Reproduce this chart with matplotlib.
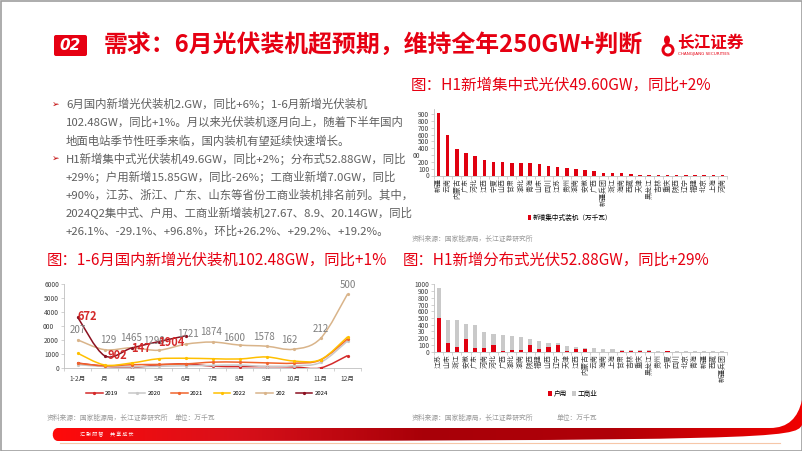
import numpy as np
import matplotlib.pyplot as plt
from matplotlib.path import Path
from matplotlib.patches import PathPatch, FancyBboxPatch, Rectangle, Ellipse
from matplotlib.transforms import ScaledTranslation
from matplotlib.colors import LinearSegmentedColormap

plt.rcParams['font.family'] = ['Noto Sans CJK SC', 'DejaVu Sans']
plt.rcParams['axes.unicode_minus'] = False

# ---- data ----
months = ['1-2月', '月', '4月', '5月', '6月', '7月', '8月', '9月', '10月', '11月', '12月']
y2019 = [380, 150, 50, 240, 320, 150, 120, 120, 100, 25, 905]
y2020 = [267, 128, 103, 140, 183, 203, 231, 127, 178, 420, 1950]
y2021 = [355, 176, 253, 277, 313, 441, 438, 387, 364, 596, 2100]
y2022 = [1086, 238, 380, 683, 717, 685, 666, 810, 524, 620, 2238]
y2023 = [2037, 1329, 1465, 1290, 1721, 1874, 1660, 1578, 1362, 2132, 5300]
y2024 = [3672, 902, 1447, 1904, 2317]
labels2023 = ['207', '129', '1465', '1290', '1721', '1874', '1600', '1578', '162', '212', '500']
labels2024 = ['672', '902', '147', '1904', '']

central_prov = ['新疆', '云南', '内蒙古', '广东', '河北', '江西', '宁夏', '山西', '甘肃', '湖北',
                '青海', '山东', '四川', '江苏', '贵州', '湖南', '安徽', '广西', '新疆兵团', '浙江',
                '海南', '西藏', '天津', '黑龙江', '吉林', '重庆', '陕西', '辽宁', '福建', '北京',
                '上海', '河南']
central_val = [915, 590, 384, 335, 290, 221, 197, 197, 187, 182, 182, 167, 143, 118, 113, 93,
               74, 64, 39, 34, 30, 15, 10, 10, 10, 5, 5, 5, 4, 1, 1, 0.5]

dist_prov = ['江苏', '山东', '浙江', '安徽', '广东', '河南', '河北', '广西', '湖北', '湖南',
             '陕西', '福建', '山西', '辽宁', '天津', '江西', '内蒙古', '云南', '海南', '上海',
             '甘肃', '吉林', '重庆', '黑龙江', '贵州', '宁夏', '四川', '北京', '青海', '新疆',
             '西藏', '新疆兵团']
household = [500, 134, 64, 188, 50, 50, 99, 3, 20, 20, 99, 40, 70, 100, 5, 35, 45, 0, 0, 0,
             10, 15, 5, 12, 2, 3, 2, 2, 0, 0, 0, 0]
commercial = [450, 331, 401, 228, 346, 247, 158, 240, 213, 193, 84, 118, 64, 24, 84, 39, 14,
              54, 45, 40, 15, 10, 15, 6, 13, 10, 8, 6, 5, 4, 3, 3]

bullets = [
    '6月国内新增光伏装机2.GW，同比+6%；1-6月新增光伏装机',
    '102.48GW，同比+1%。月以来光伏装机逐月向上，随着下半年国内',
    '地面电站季节性旺季来临，国内装机有望延续快速增长。',
    'H1新增集中式光伏装机49.6GW，同比+2%；分布式52.88GW，同比',
    '+29%；户用新增15.85GW，同比-26%；工商业新增7.0GW，同比',
    '+90%，江苏、浙江、广东、山东等省份工商业装机排名前列。其中，',
    '2024Q2集中式、户用、工商业新增装机27.67、8.9、20.14GW，同比',
    '+26.1%、-29.1%、+96.8%，环比+26.2%、+29.2%、+19.2%。',
]

W, H = 802, 451
RED = '#E60012'
TXT = '#5F5F5F'
SRC = '#9A9A9A'
AX = '#BFBFBF'

fig = plt.figure(figsize=(W / 100, H / 100), dpi=100)
bg = fig.add_axes([0, 0, 1, 1])
bg.axis('off')


def px_axes(x0, y0, x1, y1):
    return fig.add_axes([x0 / W, 1 - y1 / H, (x1 - x0) / W, (y1 - y0) / H])


def shift_label(lab, dx_px):
    lab.set_transform(lab.get_transform() + ScaledTranslation(dx_px / 100, 0, fig.dpi_scale_trans))


def style_axes(ax):
    for s in ['top', 'right']:
        ax.spines[s].set_visible(False)
    for s in ['left', 'bottom']:
        ax.spines[s].set_color(AX)
        ax.spines[s].set_linewidth(0.6)
    ax.tick_params(axis='y', length=2, width=0.5, color=AX, labelsize=4.8, labelcolor='#404040', pad=1.5)
    ax.tick_params(axis='x', which='major', length=0, labelcolor='#404040', pad=1.5)
    ax.tick_params(axis='x', which='minor', length=2, width=0.5, color=AX)
    ax.set_facecolor('none')


def smooth(ax, xs, ys, color, lw=1.0):
    # excel-style smoothed line through the data points
    pts = np.column_stack([xs, ys]).astype(float)
    verts = [pts[0]]
    codes = [Path.MOVETO]
    n = len(pts)
    for i in range(n - 1):
        p0 = pts[i - 1] if i > 0 else pts[i]
        p1, p2 = pts[i], pts[i + 1]
        p3 = pts[i + 2] if i + 2 < n else pts[i + 1]
        verts += [p1 + (p2 - p0) / 6, p2 - (p3 - p1) / 6, p2]
        codes += [Path.CURVE4] * 3
    ax.add_patch(PathPatch(Path(verts, codes), fill=False, edgecolor=color, lw=lw, zorder=3))


# ---- slide frame / header ----
bg.add_patch(Rectangle((0.5, 0.5), W - 1, H - 1, fill=False, edgecolor='#9E9E9E', lw=1.2))
bg.add_patch(FancyBboxPatch((54, 35), 33, 21, boxstyle='round,pad=0,rounding_size=2',
                            facecolor=RED, edgecolor='none'))
bg.text(70.5, 45.5, '02', color='white', fontsize=11, fontstyle='italic', fontweight='bold',
        ha='center', va='center', family='DejaVu Sans')
bg.text(104, 45, '需求：6月光伏装机超预期，维持全年250GW+判断', color=RED, fontsize=17.2,
        fontweight='bold', ha='left', va='center')
# logo
bg.add_patch(Ellipse((668, 50), 13, 13, facecolor=RED, edgecolor='none'))
bg.add_patch(Ellipse((668, 50), 7, 7, facecolor='white', edgecolor='none'))
bg.add_patch(Ellipse((667, 40), 6, 9, facecolor=RED, edgecolor='none'))
bg.text(677, 43, '长江证券', color=RED, fontsize=12, fontweight='bold', ha='left', va='center')
bg.text(678, 54.5, 'CHANGJIANG SECURITIES', color=RED, fontsize=3, ha='left', va='center',
        family='DejaVu Sans')

# ---- bullet text ----
for i, line in enumerate(bullets):
    bg.text(66, 104 + i * 18.2, line, color=TXT, fontsize=8.2, ha='left', va='center')
for y in [104, 158.6]:
    bg.text(52, y, '➢', color='#C00000', fontsize=6.5, ha='left', va='center', family='DejaVu Sans')

# ---- chart titles & sources ----
bg.text(411, 85, '图：H1新增集中式光伏49.60GW，同比+2%', color=RED, fontsize=11.2, ha='left', va='center')
bg.text(47, 260, '图：1-6月国内新增光伏装机102.48GW，同比+1%', color=RED, fontsize=11.1, ha='left', va='center')
bg.text(403, 260, '图：H1新增分布式光伏52.88GW，同比+29%', color=RED, fontsize=11.1, ha='left', va='center')
bg.text(412, 239, '资料来源：国家能源局，长江证券研究所', color=SRC, fontsize=4.9, ha='left', va='center')
bg.text(47, 418, '资料来源：国家能源局，长江证券研究所', color=SRC, fontsize=4.9, ha='left', va='center')
bg.text(175, 418, '单位：万千瓦', color=SRC, fontsize=4.9, ha='left', va='center')
bg.text(412, 418, '资料来源：国家能源局，长江证券研究所', color=SRC, fontsize=4.9, ha='left', va='center')
bg.text(557, 418, '单位：万千瓦', color=SRC, fontsize=4.9, ha='left', va='center')

# ---- bottom band ----
band = Path([(58, 428), (770, 428), (788, 428), (798, 418), (802, 400), (802, 425),
             (795, 438), (780, 441), (58, 441), (51, 441), (51, 428), (58, 428)],
            [Path.MOVETO, Path.LINETO, Path.CURVE4, Path.CURVE4, Path.CURVE4, Path.LINETO,
             Path.CURVE4, Path.CURVE4, Path.LINETO, Path.CURVE4, Path.CURVE4, Path.CURVE4])
grad = np.linspace(0, 1, 256).reshape(1, -1)
cmap = LinearSegmentedColormap.from_list('band', ['#FF0A0A', '#D8101A', '#A80008', '#B00008', '#F00000'])
im = bg.imshow(grad, cmap=cmap, aspect='auto', extent=(50, 802, 441, 398), zorder=1)
bp = PathPatch(band, facecolor='none', edgecolor='none', transform=bg.transData)
bg.add_patch(bp)
im.set_clip_path(bp)
bg.plot([60, 780], [442.5, 442.5], color='#F6C7A8', lw=0.8)
bg.text(80, 434.5, '汇 聚 财 智      共 享 成 长', color='white', fontsize=3.6, ha='left', va='center')
bg.set_xlim(0, W)
bg.set_ylim(H, 0)

# ---- top-right: centralized PV bars ----
ax1 = px_axes(434, 109, 727, 175.5)
x1 = np.arange(len(central_prov))
b1 = ax1.bar(x1, central_val, width=0.38, color='#E00010', zorder=2)
ax1.set_xlim(-0.5, len(central_prov) - 0.5)
ax1.set_ylim(0, 975)
ax1.set_yticks(range(0, 1000, 100))
ax1.set_yticklabels(['0', '100', '200', '00', '400', '500', '600', '700', '800', '900'])
ax1.set_xticks(x1)
ax1.set_xticklabels(central_prov, rotation=90, fontsize=5)
ax1.set_xticks(np.arange(-0.5, len(central_prov), 1), minor=True)
style_axes(ax1)
shift_label(ax1.get_yticklabels()[3], -9)
ax1.legend([b1], ['新增集中式装机（万千瓦）'], loc='center', bbox_to_anchor=(570 / W, 1 - 218 / H),
           bbox_transform=fig.transFigure, frameon=False, fontsize=4.8, handlelength=0.5,
           handleheight=0.8, handletextpad=0.3)

# ---- bottom-right: distributed PV stacked bars ----
ax3 = px_axes(434, 284.3, 727, 351.7)
x3 = np.arange(len(dist_prov))
b3a = ax3.bar(x3, household, width=0.45, color='#E00010', zorder=2)
b3b = ax3.bar(x3, commercial, width=0.45, bottom=household, color='#C9C9C9', zorder=2)
ax3.set_xlim(-0.5, len(dist_prov) - 0.5)
ax3.set_ylim(0, 1000)
ax3.set_yticks(range(0, 1001, 100))
ax3.set_yticklabels(['0', '100', '200', '30', '400', '500', '600', '700', '800', '900', '1000'])
ax3.set_xticks(x3)
ax3.set_xticklabels(dist_prov, rotation=90, fontsize=5)
ax3.set_xticks(np.arange(-0.5, len(dist_prov), 1), minor=True)
style_axes(ax3)
shift_label(ax3.get_yticklabels()[3], -4)
ax3.legend([b3a, b3b], ['户用', '工商业'], loc='center', bbox_to_anchor=(573 / W, 1 - 394 / H),
           bbox_transform=fig.transFigure, frameon=False, fontsize=4.8, handlelength=0.5,
           handleheight=0.8, handletextpad=0.3, ncol=2, columnspacing=0.8)

# ---- bottom-left: monthly installations ----
ax2 = px_axes(64, 284.3, 361, 368.3)
xm = np.arange(len(months))
series = [(y2019, '2019', '#D42A2A'), (y2020, '2020', '#C8C8C8'), (y2021, '2021', '#F0642D'),
          (y2022, '2022', '#FFC000'), (y2023, '202', '#D9B48A'), (y2024, '2024', '#8B1020')]
handles = []
for ys, name, c in series:
    xs = xm[:len(ys)]
    smooth(ax2, xs, ys, c, lw=1.1)
    ax2.plot(xs, ys, linestyle='none', marker='o', markersize=1.3, color=c, zorder=4)
    handles.append(ax2.plot([], [], color=c, lw=1.1, marker='o', markersize=1.3)[0])
ax2.set_xlim(-0.5, len(months) - 0.5)
ax2.set_ylim(0, 6000)
ax2.set_yticks(range(0, 6001, 1000))
ax2.set_yticklabels(['0', '1000', '2000', '000', '4000', '5000', '6000'])
ax2.set_xticks(xm)
ax2.set_xticklabels(months, fontsize=4.8)
ax2.set_xticks(np.arange(-0.5, len(months), 1), minor=True)
style_axes(ax2)
ax2.tick_params(axis='x', which='major', pad=5)
shift_label(ax2.get_yticklabels()[3], -5)

off23 = [(0, 9.3), (4, 9.3), (0, 9.3), (-5, 9.3), (2, 10), (-1, 10), (-5, 7.5),
         (-2.5, 9.3), (-4, 9.3), (0, 9.3), (0, 9.3)]
for i, (v, s) in enumerate(zip(y2023, labels2023)):
    ax2.annotate(s, (xm[i], v), xytext=off23[i], textcoords='offset pixels',
                 ha='center', va='center', fontsize=7.0, color='#7F7F7F', zorder=5)
off24 = [(9.5, 0), (12.5, 0), (9.5, 0), (13, -1), (0, 0)]
for i, (v, s) in enumerate(zip(y2024, labels2024)):
    if s:
        ax2.annotate(s, (xm[i], v), xytext=off24[i], textcoords='offset pixels',
                     ha='center', va='center', fontsize=8.0, fontweight='bold', color='#D42A2A', zorder=6)
ax2.legend(handles, [s[1] for s in series], loc='center', bbox_to_anchor=(207 / W, 1 - 393 / H),
           bbox_transform=fig.transFigure, frameon=False, fontsize=4.3, ncol=6,
           handlelength=2.8, handletextpad=0.4, columnspacing=1.7)

fig.savefig('out.png', dpi=100)
